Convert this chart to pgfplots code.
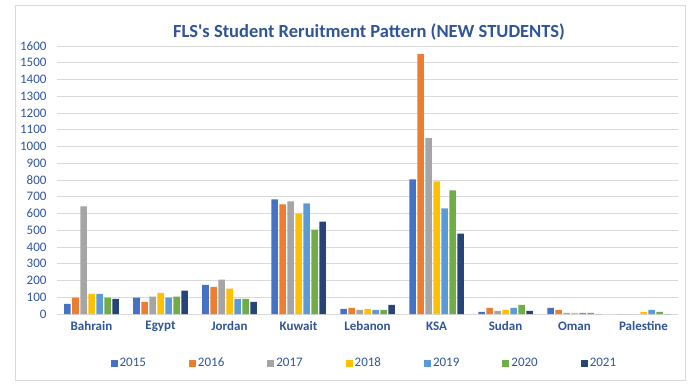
\documentclass[border=0pt]{standalone}
\usepackage{pgfplots}
\pgfplotsset{compat=1.18}
\usepackage{fontspec}
\setmainfont{Carlito}
\definecolor{c15}{HTML}{4472C4}
\definecolor{c16}{HTML}{ED7D31}
\definecolor{c17}{HTML}{A5A5A5}
\definecolor{c18}{HTML}{FFC000}
\definecolor{c19}{HTML}{5B9BD5}
\definecolor{c20}{HTML}{70AD47}
\definecolor{c21}{HTML}{264478}
\definecolor{txt}{HTML}{2F5597}
\definecolor{gridc}{HTML}{D9D9D9}
\begin{document}
\begin{tikzpicture}[x=1pt,y=1pt]
\draw[gridc, line width=0.8pt] (15,11) rectangle (685,386);
\node[anchor=base, text=txt, font=\fontsize{18.5}{21}\selectfont\bfseries] at (369,353) {FLS\textquotesingle s Student Reruitment Pattern (NEW STUDENTS)};
\begin{axis}[
  at={(57pt,77pt)}, anchor=south west,
  scale only axis, width=621pt, height=268pt,
  ybar=1.5pt, bar width=6.5pt,
  xmin=-0.5, xmax=8.5, ymin=0, ymax=1600,
  ytick={0,100,...,1600},
  xtick={0,...,8},
  xticklabels={Bahrain,Egypt,Jordan,Kuwait,Lebanon,KSA,Sudan,Oman,Palestine},
  axis line style={draw=none},
  major tick length=0pt,
  ymajorgrids, grid style={gridc, line width=0.8pt},
  /pgf/number format/assume math mode=true,
  /pgf/number format/1000 sep={},
  yticklabel style={font=\fontsize{13}{15}\selectfont, text=txt, xshift=-7pt},
  xticklabel style={font=\fontsize{13}{15}\selectfont\bfseries, text=txt, yshift=-4pt},
  legend style={at={(0.495,-0.183)}, anchor=center, draw=none, fill=none,
    font=\fontsize{13}{15}\selectfont, text=txt, legend columns=7,
    /tikz/every even column/.append style={column sep=41pt}},
  legend image code/.code={\fill[#1] (-3pt,-3.5pt) rectangle (4pt,3.5pt);},
]
\addplot[fill=c15, draw=none] coordinates {(0,60) (1,98) (2,174) (3,685) (4,30) (5,804) (6,12) (7,36) (8,0)};
\addplot[fill=c16, draw=none] coordinates {(0,98) (1,72) (2,162) (3,655) (4,36) (5,1552) (6,36) (7,24) (8,0)};
\addplot[fill=c17, draw=none] coordinates {(0,642) (1,104) (2,205) (3,672) (4,24) (5,1050) (6,18) (7,6) (8,0)};
\addplot[fill=c18, draw=none] coordinates {(0,120) (1,126) (2,152) (3,600) (4,30) (5,792) (6,24) (7,6) (8,12)};
\addplot[fill=c19, draw=none] coordinates {(0,120) (1,98) (2,90) (3,660) (4,24) (5,630) (6,36) (7,6) (8,24)};
\addplot[fill=c20, draw=none] coordinates {(0,98) (1,104) (2,90) (3,504) (4,24) (5,738) (6,54) (7,6) (8,12)};
\addplot[fill=c21, draw=none] coordinates {(0,90) (1,140) (2,72) (3,552) (4,54) (5,480) (6,18) (7,0) (8,0)};
\legend{2015,2016,2017,2018,2019,2020,2021}
\end{axis}
\pgfresetboundingbox
\useasboundingbox (0,0) rectangle (692,391);
\end{tikzpicture}
\end{document}
